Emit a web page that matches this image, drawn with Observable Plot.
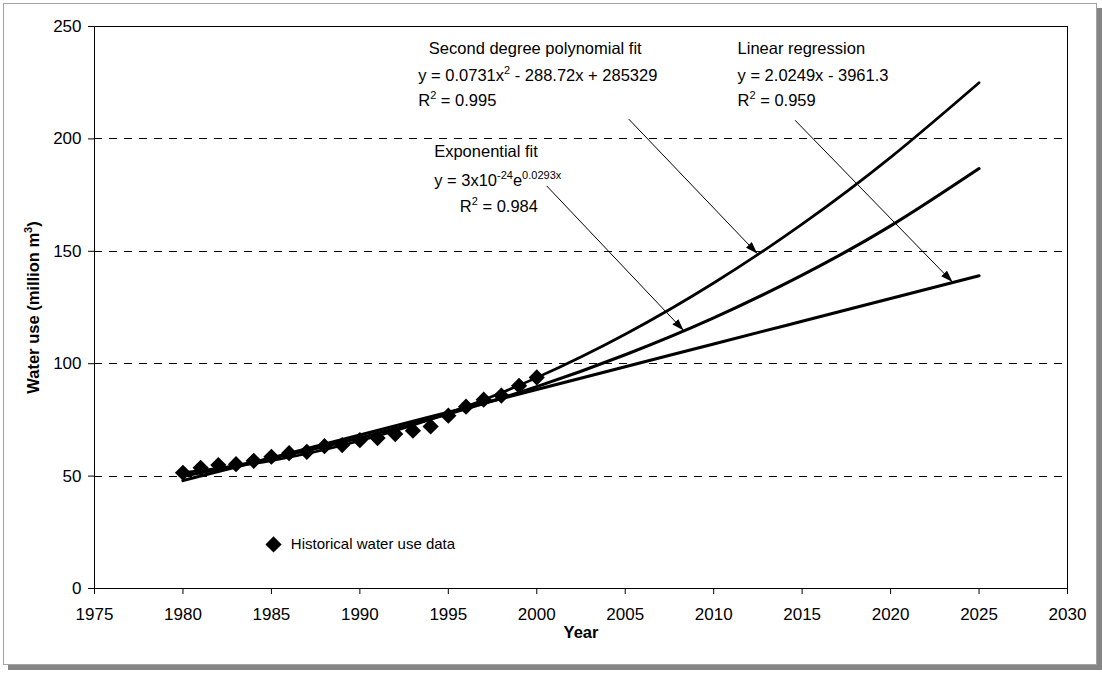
<!DOCTYPE html>
<html>
<head>
<meta charset="utf-8">
<script src="https://cdn.jsdelivr.net/npm/d3@7"></script>
<script src="https://cdn.jsdelivr.net/npm/@observablehq/plot@0.6"></script>
<style>
  body { margin: 0; background: #fff; }
  #wrap { position: relative; width: 1102px; height: 675px; }
  #border { position: absolute; left: 3px; top: 3px; width: 1092px; height: 660px;
            border: 1px solid #a3a3a3; box-shadow: 5px 5px 0 #858585; background: #fff; }
  #chart { position: absolute; left: 0; top: 0; }
</style>
</head>
<body>
<div id="wrap"><div id="border"></div><div id="chart"></div></div>
<script>
// Historical water use (million m3), 1980–2000
const years = [1980, 1981, 1982, 1983, 1984, 1985, 1986, 1987, 1988, 1989, 1990,
               1991, 1992, 1993, 1994, 1995, 1996, 1997, 1998, 1999, 2000];
const waterUse = [51.5, 53.7, 54.9, 55.3, 56.8, 58.6, 60.2, 60.8, 63.3, 63.8, 66.0,
                  66.9, 68.7, 70.2, 72.1, 76.9, 80.9, 84.0, 85.8, 90.2, 93.9];

// Fitted trend curves, sampled every five years
const fitYears = [1980, 1985, 1990, 1995, 2000, 2005, 2010, 2015, 2020, 2025];
const polyFit = [51.5, 56.9, 65.7, 78.0, 93.8, 113.1, 135.9, 162.1, 191.8, 225.0];
const expFit = [50.0, 57.9, 67.0, 77.6, 89.8, 104.0, 120.4, 139.4, 161.3, 186.8];
const linearFit = [48.0, 58.1, 68.3, 78.4, 88.5, 98.6, 108.8, 118.9, 129.0, 139.1];

// Axis ticks and dashed gridlines
const xTicks = [1975, 1980, 1985, 1990, 1995, 2000, 2005, 2010, 2015, 2020, 2025, 2030];
const yTicks = [0, 50, 100, 150, 200, 250];
const gridValues = [50, 100, 150, 200];

// Fit descriptions (^{...} marks a superscript)
const noteText = [
  "Second degree polynomial fit", "y = 0.0731x^{2} - 288.72x + 285329", "R^{2} = 0.995",
  "Linear regression", "y = 2.0249x - 3961.3", "R^{2} = 0.959",
  "Exponential fit", "y = 3x10^{-24}e^{0.0293x}", "R^{2} = 0.984"
];
const legendLabel = ["Historical water use data"];
const xTitle = ["Year"];
const yTitle = ["Water use (million m^{3})"];

// Note anchors in chart units (year, million m3)
const noteX = [1993.9, 1993.3, 1993.3, 2011.35, 2011.35, 2011.35, 1994.2, 1994.2, 1995.65];
const noteY = [240.3, 227.9, 216.8, 240.3, 227.9, 216.8, 194.1, 181.2, 170.0];

// Callout arrows: from the note to its curve
const calloutFrom = [[2005.2, 208.8], [2014.6, 208.3], [2000.56, 179.1]];
const calloutTo = [[2012.46, 149.0], [2023.5, 136.3], [2008.3, 114.8]];

const font = "'Liberation Sans', Arial, Helvetica, sans-serif";

const plot = Plot.plot({
  width: 1102,
  height: 675,
  marginLeft: 94,
  marginRight: 35,
  marginTop: 26,
  marginBottom: 87,
  style: { fontFamily: font, fontSize: "17px", color: "#000", background: "transparent" },
  x: { domain: [1975, 2030] },
  y: { domain: [0, 250] },
  marks: [
    Plot.ruleY(gridValues, { stroke: "#000", strokeWidth: 1, strokeDasharray: "8,7", shapeRendering: "crispEdges" }),
    Plot.frame({ stroke: "#000", strokeWidth: 1 }),
    Plot.axisX({ ticks: xTicks, tickSize: 6, tickPadding: 13, tickFormat: d => String(d), label: null }),
    Plot.axisY({ ticks: yTicks, tickSize: 6, tickPadding: 7, tickFormat: d => String(d), label: null }),
    Plot.text(xTitle, { frameAnchor: "bottom", lineAnchor: "middle", textAnchor: "middle", dy: 44, fontWeight: "bold", fontSize: 16.5 }),
    Plot.text(yTitle, { frameAnchor: "left", textAnchor: "middle", lineAnchor: "middle", dx: -61, rotate: -90, fontWeight: "bold", fontSize: 16.5, className: "note" }),

    Plot.dot(waterUse, { x: years, y: waterUse, symbol: "diamond2", r: 7.3, fill: "#000" }),
    Plot.line(polyFit, { x: fitYears, y: polyFit, curve: "natural", stroke: "#000", strokeWidth: 2.7 }),
    Plot.line(expFit, { x: fitYears, y: expFit, curve: "natural", stroke: "#000", strokeWidth: 3.1 }),
    Plot.line(linearFit, { x: fitYears, y: linearFit, curve: "natural", stroke: "#000", strokeWidth: 3.1 }),

    Plot.link(calloutFrom, {
      x1: d => d[0], y1: d => d[1],
      x2: (d, i) => calloutTo[i][0], y2: (d, i) => calloutTo[i][1],
      stroke: "#000", strokeWidth: 1, className: "callout"
    }),
    Plot.text(noteText, { x: noteX, y: noteY, textAnchor: "start", lineAnchor: "middle", fontSize: 16.5, fill: "#000", className: "note" }),

    // Legend entry
    Plot.dot([0], { x: [1985.12], y: [19.6], symbol: "diamond2", r: 7.3, fill: "#000" }),
    Plot.text(legendLabel, { x: [1986.1], y: [19.9], textAnchor: "start", lineAnchor: "middle", fontSize: 15, fill: "#000" })
  ]
});

// Filled arrow heads for the callouts
const svg = d3.select(plot);
svg.insert("defs", ":first-child")
  .append("marker")
  .attr("id", "callout-head")
  .attr("viewBox", "0 0 12 8")
  .attr("refX", 12).attr("refY", 4)
  .attr("markerWidth", 12).attr("markerHeight", 8)
  .attr("markerUnits", "userSpaceOnUse")
  .attr("orient", "auto")
  .append("path").attr("d", "M0,0L12,4L0,8Z").attr("fill", "#000");
svg.selectAll(".callout path, path.callout").attr("marker-end", "url(#callout-head)");

// Render ^{...} segments as raised, smaller text
svg.selectAll(".note text, text.note").each(function () {
  const raw = this.textContent;
  if (!raw.includes("^{")) return;
  const el = d3.select(this);
  el.text(null);
  const parts = raw.split(/\^\{([^}]*)\}/);
  let raised = false;
  parts.forEach((p, i) => {
    if (!p) return;
    const sup = i % 2 === 1;
    const t = el.append("tspan").text(p);
    if (sup) {
      t.attr("font-size", 11);
      if (!raised) { t.attr("dy", -7); raised = true; }
    } else if (raised) {
      t.attr("dy", 7); raised = false;
    }
  });
});

document.getElementById("chart").appendChild(plot);
</script>
</body>
</html>
